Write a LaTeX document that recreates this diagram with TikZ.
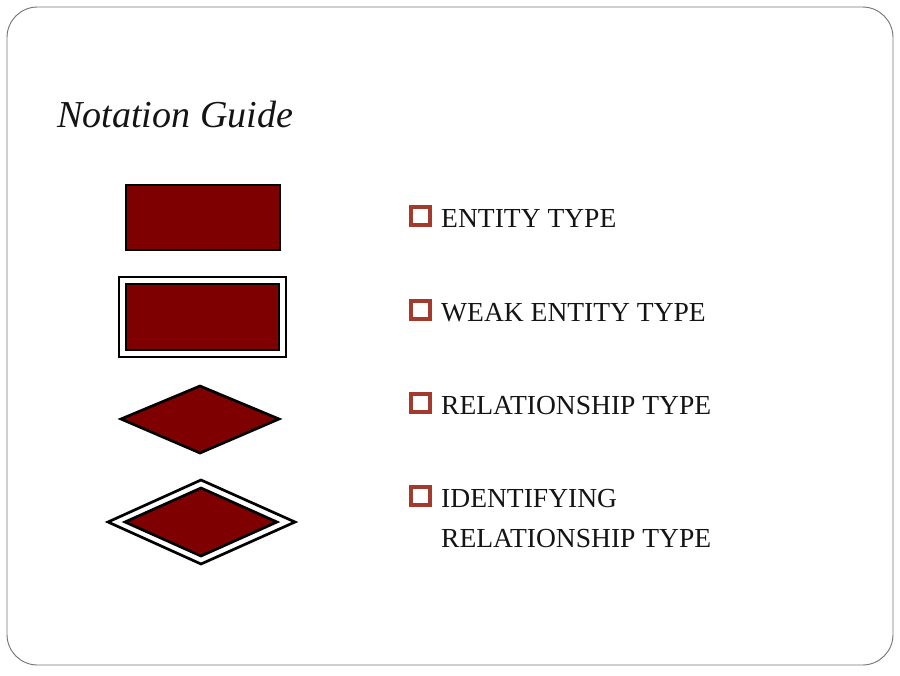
\documentclass[tikz,border=0pt]{standalone}
\usepackage{fontspec}
\setmainfont{Liberation Serif}
\usepackage{tikz}
\definecolor{maroon}{HTML}{7F0000}
\definecolor{chkred}{HTML}{A33A2E}
\definecolor{framegray}{HTML}{777777}
\definecolor{ink}{HTML}{141414}
\tikzset{
  frame/.style={draw=framegray, line width=0.8pt, rounded corners=26},
  shp/.style={draw=black, fill=maroon, line width=2.3pt, line join=miter},
  outer/.style={draw=black, fill=white, line width=2.3pt, line join=miter},
  chk/.style={draw=chkred, line width=2.8pt},
  lab/.style={text=ink, anchor=base west, inner sep=0pt, font=\fontsize{23.5}{28}\selectfont},
  ttl/.style={text=ink, anchor=base west, inner sep=0pt, font=\itshape\fontsize{32.5}{40}\selectfont},
}
\begin{document}
\begin{tikzpicture}[x=0.03cm, y=-0.03cm]
  \useasboundingbox (0,0) rectangle (900,675);
  \fill[white] (0,0) rectangle (900,675);
  \draw[frame] (7,7) rectangle (893,665);
  \node[ttl] (title) at (57,127) {Notation Guide};
  % entity
  \draw[shp] (126,185) rectangle (280,250);
  % weak entity
  \draw[outer] (119,277) rectangle (286,357);
  \draw[shp] (126,284) rectangle (279,350);
  % relationship
  \draw[shp] (121,419) -- (200,386) -- (279,419) -- (200,453) -- cycle;
  % identifying relationship
  \draw[outer] (108,522) -- (201,480) -- (295,522) -- (201,564) -- cycle;
  \draw[shp] (125,522) -- (201,488) -- (277,522) -- (201,556) -- cycle;
  % legend
  \foreach \y/\t [count=\i] in {227/ENTITY TYPE, 321/WEAK ENTITY TYPE, 414/RELATIONSHIP TYPE, 507/IDENTIFYING}{
    \draw[chk] (411,\y-20) rectangle (430,\y-2);
    \node[lab] (l\i) at (441,\y) {\t};
  }
  \node[lab] (l5) at (441,547) {RELATIONSHIP TYPE};
\end{tikzpicture}
\end{document}
